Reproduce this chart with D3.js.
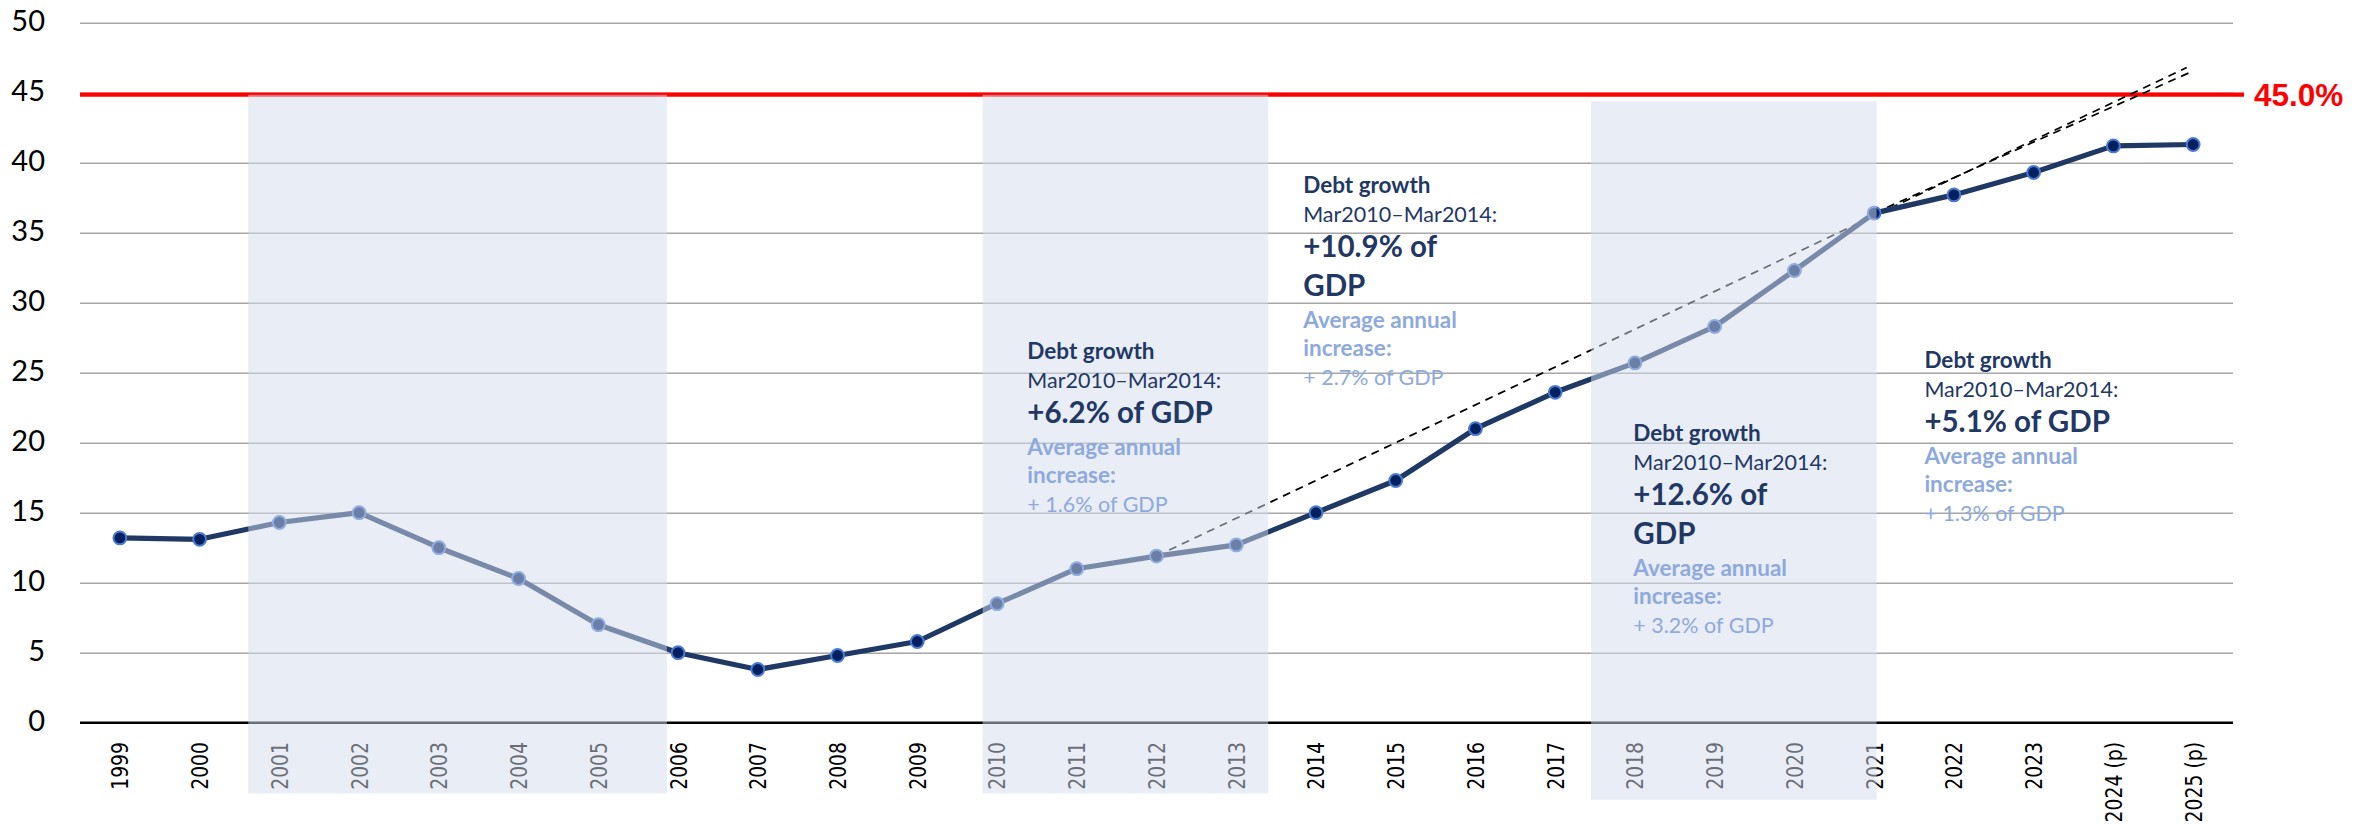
<!DOCTYPE html>
<html>
<head>
<meta charset="utf-8">
<script src="https://cdn.jsdelivr.net/npm/d3@7"></script>
<style>
  html, body { margin: 0; padding: 0; background: #fff; }
  svg { display: block; }
</style>
</head>
<body>
<svg id="chart" width="2376" height="825"></svg>
<script>
// Public debt, % of GDP, 1999–2025 (projections marked "(p)")
const yearLabels = ["1999","2000","2001","2002","2003","2004","2005","2006","2007","2008",
  "2009","2010","2011","2012","2013","2014","2015","2016","2017","2018","2019","2020",
  "2021","2022","2023","2024 (p)","2025 (p)"];
const debtValues = [13.2, 13.1, 14.3, 15.0, 12.5, 10.3, 7.0, 5.0, 3.8, 4.8, 5.8, 8.5,
  11.0, 11.9, 12.7, 15.0, 17.3, 21.0, 23.6, 25.7, 28.3, 32.3, 36.4, 37.7, 39.3, 41.2, 41.3];
const yTicks = [0, 5, 10, 15, 20, 25, 30, 35, 40, 45, 50];

// Debt limit
const limitValue = 45;
const limitLabel = "45.0%";

// Highlighted periods (fractional years on the time axis, values in % of GDP)
const periodFrom   = [2000.61, 2009.82, 2017.45];
const periodTo     = [2005.86, 2013.40, 2021.03];
const periodTop    = [44.85, 44.85, 44.4];
const periodBottom = [-5.05, -5.05, -5.5];

// Dashed trend extrapolations
const trendYears  = [[2012, 2024.92], [2021, 2025]];
const trendValues = [[11.9, 46.8], [36.4, 46.55]];

// Period annotations
const noteYears  = [2010.38, 2013.84, 2017.98, 2021.63];
const noteValues = [26.0, 37.86, 20.1, 25.34];
const noteHeads  = ["Debt growth", "Debt growth", "Debt growth", "Debt growth"];
const notePeriods = ["Mar2010–Mar2014:", "Mar2010–Mar2014:", "Mar2010–Mar2014:", "Mar2010–Mar2014:"];
const noteGrowth = [["+6.2% of GDP"], ["+10.9% of", "GDP"], ["+12.6% of", "GDP"], ["+5.1% of GDP"]];
const noteAvgLabel = ["Average annual", "increase:"];
const noteAvg = ["+ 1.6% of GDP", "+ 2.7% of GDP", "+ 3.2% of GDP", "+ 1.3% of GDP"];

const svg = d3.select("#chart");
const plotLeft = 80, plotRight = 2233, plotTop = 22.7, plotBottom = 722.7;

const x = d3.scaleBand().domain(yearLabels).range([plotLeft, plotRight]);
const firstYear = 1999;
const xCenter = lab => x(lab) + x.bandwidth() / 2;
const xYear = yr => x(yearLabels[0]) + x.bandwidth() / 2 + (yr - firstYear) * x.step();
const y = d3.scaleLinear().domain([0, 50]).range([plotBottom, plotTop]);

const navy = "#1F3864";
const lightText = "#8EA9DB";

// Gridlines and y labels
const yAxis = d3.axisLeft(y).tickValues(yTicks).tickSize(-(plotRight - plotLeft)).tickPadding(35)
  .tickFormat(d3.format("d"));
const gy = svg.append("g").attr("transform", `translate(${plotLeft},0)`).call(yAxis);
gy.select(".domain").remove();
gy.selectAll(".tick line").attr("stroke", "#A6A6A6").attr("stroke-width", 1.6);
gy.selectAll(".tick text")
  .attr("font-family", "Lato, 'Open Sans', sans-serif")
  .attr("font-size", 29).attr("fill", "#000").attr("dy", "0.26em");

// Zero baseline
svg.append("line")
  .attr("x1", plotLeft).attr("x2", plotRight)
  .attr("y1", y(0)).attr("y2", y(0))
  .attr("stroke", "#000").attr("stroke-width", 2.6);

// Limit line
svg.append("line")
  .attr("x1", plotLeft).attr("x2", plotRight + 11)
  .attr("y1", y(limitValue) + 2).attr("y2", y(limitValue) + 2)
  .attr("stroke", "#FF0000").attr("stroke-width", 4.3);

// Trend lines
trendYears.forEach((yrs, k) => {
  svg.append("line")
    .attr("x1", xYear(yrs[0])).attr("y1", y(trendValues[k][0]))
    .attr("x2", xYear(yrs[1])).attr("y2", y(trendValues[k][1]))
    .attr("stroke", "#000").attr("stroke-width", 1.7)
    .attr("stroke-dasharray", "8,6");
});

// Debt series
const series = yearLabels.map((lab, i) => ({ lab, v: debtValues[i] }));
svg.append("path")
  .datum(series)
  .attr("fill", "none")
  .attr("stroke", navy)
  .attr("stroke-width", 5.2)
  .attr("stroke-linejoin", "round")
  .attr("d", d3.line().x(d => xCenter(d.lab)).y(d => y(d.v)));

svg.append("g").selectAll("circle")
  .data(series).join("circle")
  .attr("cx", d => xCenter(d.lab)).attr("cy", d => y(d.v))
  .attr("r", 6.4)
  .attr("fill", "#002060")
  .attr("stroke", "#4A7BD0").attr("stroke-width", 2);

// Year labels
const gx = svg.append("g");
yearLabels.forEach(lab => {
  gx.append("text")
    .attr("transform", `translate(${xCenter(lab)},742) rotate(-90) scale(0.8,1)`)
    .attr("text-anchor", "end")
    .attr("dy", "0.36em")
    .attr("font-family", "'DejaVu Sans', Verdana, sans-serif")
    .attr("font-size", 23.5)
    .attr("fill", "#000")
    .text(lab);
});

// Highlighted periods: translucent wash laid over the plot
svg.append("g").selectAll("rect")
  .data(periodFrom.map((f, i) => ({ f, t: periodTo[i], hi: periodTop[i], lo: periodBottom[i] })))
  .join("rect")
  .attr("x", d => xYear(d.f))
  .attr("width", d => xYear(d.t) - xYear(d.f))
  .attr("y", d => y(d.hi))
  .attr("height", d => y(d.lo) - y(d.hi))
  .attr("fill", "rgb(212,220,238)")
  .attr("fill-opacity", 0.5);

// Annotations
const font = "Lato, 'Open Sans', sans-serif";
noteYears.forEach((yr, k) => {
  const g = svg.append("g").attr("transform", `translate(${xYear(yr)},${y(noteValues[k])})`);
  let by = 0;
  const add = (txt, size, weight, color) => {
    g.append("text").attr("x", 0).attr("y", by)
      .attr("font-family", font).attr("font-size", size)
      .attr("font-weight", weight).attr("fill", color).text(txt);
  };
  add(noteHeads[k], 22.5, 700, navy);
  by += 29; add(notePeriods[k], 21.5, 400, navy);
  noteGrowth[k].forEach((t, j) => { by += (j === 0 ? 35 : 39); add(t, 29.5, 700, navy); });
  by += 32; add(noteAvgLabel[0], 22.5, 700, lightText);
  by += 28; add(noteAvgLabel[1], 22.5, 700, lightText);
  by += 29; add(noteAvg[k], 21.5, 400, lightText);
});

// Limit label
svg.append("text")
  .attr("x", plotRight + 21).attr("y", y(limitValue) + 13)
  .attr("font-family", "'Liberation Sans', Arial, sans-serif")
  .attr("font-size", 31.5).attr("font-weight", 700)
  .attr("fill", "#FF0000")
  .text(limitLabel);
</script>
</body>
</html>
